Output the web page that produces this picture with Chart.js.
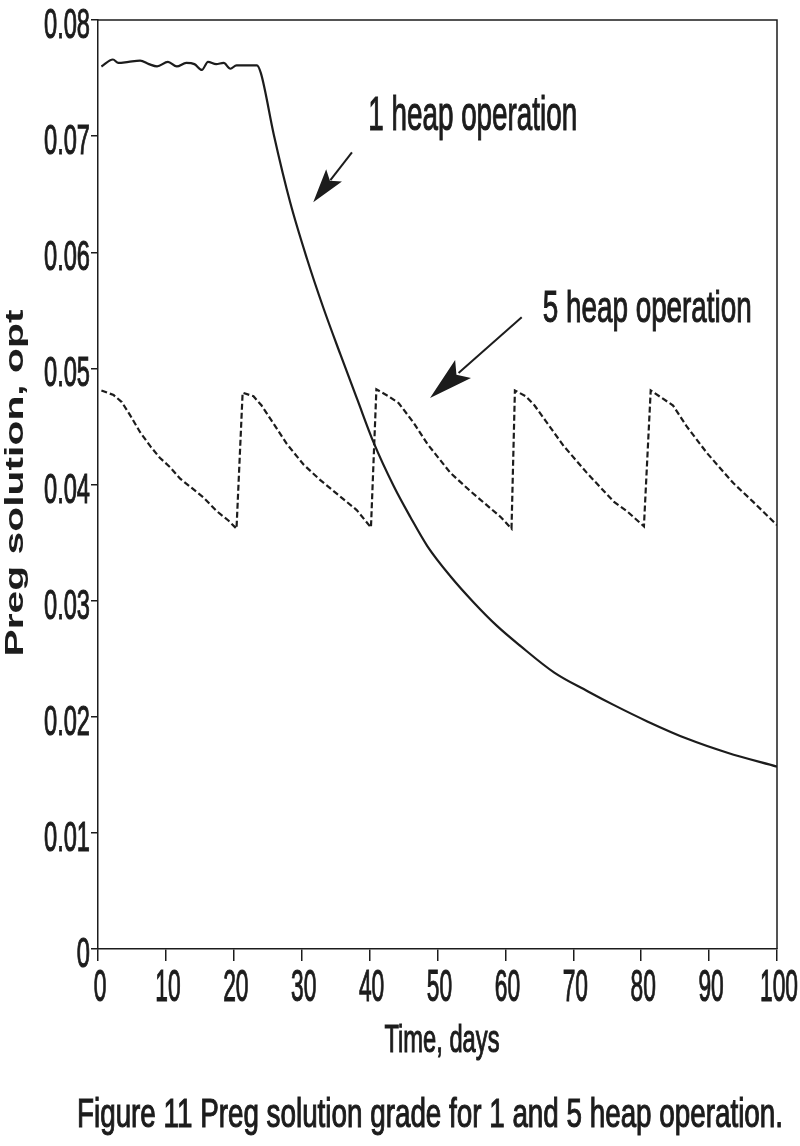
<!DOCTYPE html>
<html>
<head>
<meta charset="utf-8">
<script src="https://cdn.jsdelivr.net/npm/chart.js@4.4.1/dist/chart.umd.min.js"></script>
<style>
  html, body { margin: 0; padding: 0; background: #fff; }
  canvas { display: block; }
</style>
</head>
<body>
<canvas id="myChart" width="800" height="1146"></canvas>
<script>
// data
var heap1Days = [0.5, 2.2, 3.0, 4.5, 6.2, 7.5, 8.7, 10.3, 11.6, 13.0, 14.2, 15.3, 16.2, 17.4, 18.5, 19.5, 20.4, 21.5, 22.9, 23.4, 24.0,
    25.9, 28.3, 30.8, 33.2, 35.7, 38.2, 40.6, 43.6, 46.0, 48.5, 51.9, 55.4, 58.8, 62.2, 67.2, 72.1, 76.0, 80.9, 86.8, 92.7, 100];
var heap1Grade = [0.0760, 0.0766, 0.0763, 0.0764, 0.0765, 0.0762, 0.0760, 0.0764, 0.0760, 0.0763, 0.0762, 0.0757, 0.0764, 0.0762, 0.0763, 0.0758, 0.0761, 0.0761, 0.0761, 0.0761, 0.0754,
    0.0701, 0.0643, 0.0594, 0.0552, 0.0512, 0.0473, 0.0436, 0.0398, 0.0372, 0.0347, 0.0321, 0.0298, 0.0278, 0.0261, 0.0238, 0.0222, 0.0210, 0.0196, 0.0181, 0.0169, 0.0157];

var heap5Days = [0.5, 2.3, 3.5, 4.7, 6.2, 7.7, 9.1, 10.6, 12.1, 13.6, 15.5, 17.5, 19.2, 20.4,
    21.3, 22.9, 24.1, 25.8, 27.8, 30.3, 32.7, 35.6, 38.1, 40.2,
    41.0, 42.8, 44.3, 46.5, 48.5, 51.9, 54.9, 57.3, 59.3, 60.9,
    61.4, 63.0, 64.3, 65.9, 68.6, 69.5, 72.0, 76.0, 77.9, 80.4,
    81.4, 84.7, 86.7, 89.7, 93.6, 96.5, 100];
var heap5Grade = [0.0481, 0.0477, 0.0471, 0.0460, 0.0445, 0.0433, 0.0423, 0.0415, 0.0405, 0.0398, 0.0389, 0.0377, 0.0369, 0.0362,
    0.0479, 0.0476, 0.0468, 0.0453, 0.0435, 0.0417, 0.0404, 0.0390, 0.0378, 0.0363,
    0.0482, 0.0476, 0.0470, 0.0453, 0.0435, 0.0410, 0.0394, 0.0382, 0.0372, 0.0362,
    0.0481, 0.0476, 0.0468, 0.0455, 0.0433, 0.0427, 0.0410, 0.0385, 0.0377, 0.0364,
    0.0481, 0.0468, 0.0450, 0.0427, 0.0401, 0.0385, 0.0365];

var xTicks = [0, 10, 20, 30, 40, 50, 60, 70, 80, 90, 100];
var xTickLabels = ['0', '10', '20', '30', '40', '50', '60', '70', '80', '90', '100'];
var yTicks = [0, 0.01, 0.02, 0.03, 0.04, 0.05, 0.06, 0.07, 0.08];
var yTickLabels = ['0', '0.01', '0.02', '0.03', '0.04', '0.05', '0.06', '0.07', '0.08'];

var FONT = "'Liberation Sans', Arial, Helvetica, sans-serif";
var INK = '#1c1c1c';

function toPoints(xs, ys) {
    return xs.map(function(x, i) { return { x: x, y: ys[i] }; });
}

// text squeezed/stretched sideways to look like the scanned condensed type
function fitScale(ctx, str, size, bold, targetW) {
    ctx.font = (bold ? 'bold ' : '') + size + 'px ' + FONT;
    return targetW / ctx.measureText(str).width;
}

function drawText(ctx, str, x, y, size, sx, o) {
    o = o || {};
    ctx.save();
    ctx.font = (o.bold ? 'bold ' : '') + size + 'px ' + FONT;
    ctx.fillStyle = INK;
    ctx.strokeStyle = INK;
    ctx.translate(x, y);
    if (o.rot) ctx.rotate(o.rot);
    ctx.scale(sx, 1);
    ctx.textAlign = o.align || 'left';
    ctx.textBaseline = 'alphabetic';
    ctx.fillText(str, 0, 0);
    if (!o.bold) {
        // thicken the thin stems a little, like the scan
        ctx.lineWidth = 1.1;
        ctx.strokeText(str, 0, 0);
    }
    ctx.restore();
}

function drawArrow(ctx, x1, y1, x2, y2, headLen, headW) {
    var ang = Math.atan2(y2 - y1, x2 - x1);
    var c = Math.cos(ang), s = Math.sin(ang);
    var bx = x2 - c * headLen, by = y2 - s * headLen;
    ctx.save();
    ctx.strokeStyle = INK;
    ctx.fillStyle = INK;
    ctx.lineWidth = 2;
    ctx.beginPath();
    ctx.moveTo(x1, y1);
    ctx.lineTo(bx + c * 6, by + s * 6);
    ctx.stroke();
    ctx.beginPath();
    ctx.moveTo(x2, y2);
    ctx.lineTo(bx - s * headW, by + c * headW);
    ctx.lineTo(bx + c * headLen * 0.2, by + s * headLen * 0.2);
    ctx.lineTo(bx + s * headW, by - c * headW);
    ctx.closePath();
    ctx.fill();
    ctx.restore();
}

var decorPlugin = {
    id: 'decor',
    afterDraw: function(chart) {
        var ctx = chart.ctx;
        var a = chart.chartArea;
        var xs = chart.scales.x, ys = chart.scales.y;

        // top and right sides of the box
        ctx.save();
        ctx.strokeStyle = INK;
        ctx.lineWidth = 1.5;
        ctx.beginPath();
        ctx.moveTo(a.left, a.top);
        ctx.lineTo(a.right, a.top);
        ctx.lineTo(a.right, a.bottom);
        ctx.stroke();
        ctx.restore();

        // tick labels
        var syk = fitScale(ctx, '0.08', 43, false, 46);
        yTicks.forEach(function(v, i) {
            drawText(ctx, yTickLabels[i], 90, ys.getPixelForValue(v) + 18, 43, syk, { align: 'right' });
        });
        var sxk = fitScale(ctx, '100', 44, false, 38);
        xTicks.forEach(function(v, i) {
            drawText(ctx, xTickLabels[i], xs.getPixelForValue(v) + 2, 1001, 44, sxk, { align: 'center' });
        });

        // axis titles
        var st = fitScale(ctx, 'Time, days', 39, false, 115);
        drawText(ctx, 'Time, days', 442, 1052, 39, st, { align: 'center' });
        var sy = fitScale(ctx, 'Preg solution, opt', 25, true, 347);
        drawText(ctx, 'Preg solution, opt', 23, 483, 25, sy, { align: 'center', bold: true, rot: -Math.PI / 2 });

        // caption
        var cap = 'Figure 11 Preg solution grade for 1 and 5 heap operation.';
        var sc = fitScale(ctx, cap, 40, false, 706);
        drawText(ctx, cap, 430, 1127, 40, sc, { align: 'center' });

        // annotations
        var s1 = fitScale(ctx, '1 heap operation', 48, false, 209);
        drawText(ctx, '1 heap operation', xs.getPixelForValue(39.8), ys.getPixelForValue(0.0705), 48, s1);
        var s5 = fitScale(ctx, '5 heap operation', 45, false, 209);
        drawText(ctx, '5 heap operation', xs.getPixelForValue(65.5), ys.getPixelForValue(0.0540), 45, s5);

        drawArrow(ctx, xs.getPixelForValue(37.4), ys.getPixelForValue(0.0686),
            xs.getPixelForValue(31.7), ys.getPixelForValue(0.0643), 34, 10);
        drawArrow(ctx, xs.getPixelForValue(62.4), ys.getPixelForValue(0.0544),
            xs.getPixelForValue(48.9), ys.getPixelForValue(0.04745), 44, 12);
    }
};

var ctx = document.getElementById('myChart').getContext('2d');
window.myChart = new Chart(ctx, {
    type: 'line',
    data: {
        datasets: [{
                label: '1 heap operation',
                data: toPoints(heap1Days, heap1Grade),
                borderColor: INK,
                borderWidth: 2.2,
                pointRadius: 0,
                fill: false,
                cubicInterpolationMode: 'monotone'
            },
            {
                label: '5 heap operation',
                data: toPoints(heap5Days, heap5Grade),
                borderColor: INK,
                borderWidth: 2.2,
                borderDash: [6, 3],
                pointRadius: 0,
                fill: false,
                tension: 0
            }
        ]
    },
    options: {
        responsive: false,
        animation: false,
        events: [],
        layout: { padding: { top: 20, right: 23, left: 0, bottom: 0 } },
        plugins: {
            legend: { display: false },
            tooltip: { enabled: false }
        },
        scales: {
            x: {
                type: 'linear',
                min: 0,
                max: 100,
                afterBuildTicks: function(scale) {
                    scale.ticks = xTicks.map(function(v) { return { value: v }; });
                },
                afterFit: function(scale) { scale.height = 197; },
                ticks: { display: false },
                grid: { drawOnChartArea: false, drawTicks: true, tickLength: 12, color: INK, lineWidth: 1.5 },
                border: { display: true, color: INK, width: 1.5 }
            },
            y: {
                type: 'linear',
                min: 0,
                max: 0.08,
                afterBuildTicks: function(scale) {
                    scale.ticks = yTicks.map(function(v) { return { value: v }; });
                },
                afterFit: function(scale) { scale.width = 98; },
                ticks: { display: false },
                grid: { drawOnChartArea: false, drawTicks: true, tickLength: 7, color: INK, lineWidth: 1.5 },
                border: { display: true, color: INK, width: 1.5 }
            }
        }
    },
    plugins: [decorPlugin]
});
</script>
</body>
</html>
